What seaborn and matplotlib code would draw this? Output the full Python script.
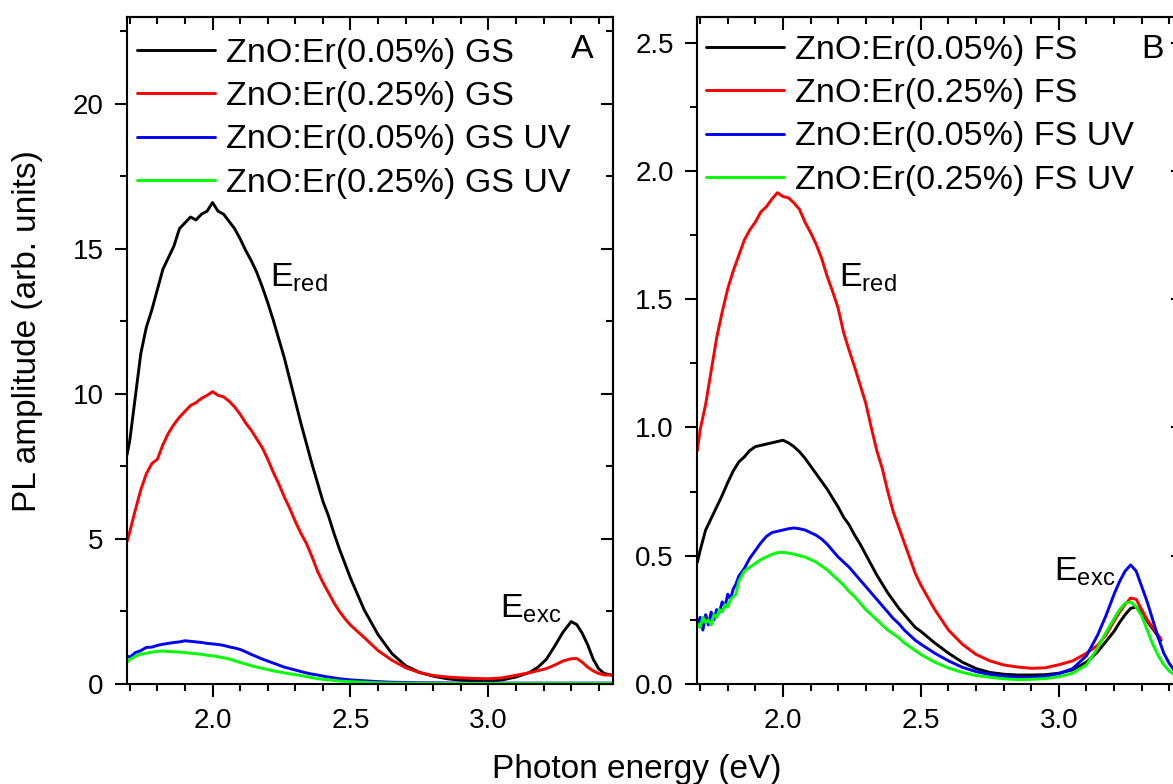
import pandas as pd
import matplotlib
matplotlib.use("Agg")
import matplotlib.pyplot as plt
import seaborn as sns
from matplotlib.ticker import MultipleLocator

# ---- data ----
energy_gs = [1.69, 1.70, 1.72, 1.74, 1.76, 1.78, 1.80, 1.82, 1.84, 1.86, 1.88, 1.90, 1.92, 1.94,
             1.96, 1.98, 2.00, 2.02, 2.04, 2.06, 2.08, 2.10, 2.12, 2.14, 2.16, 2.18, 2.20, 2.22,
             2.24, 2.26, 2.28, 2.30, 2.32, 2.34, 2.36, 2.38, 2.40, 2.42, 2.44, 2.46, 2.48, 2.50,
             2.55, 2.60, 2.65, 2.70, 2.75, 2.80, 2.85, 2.90, 2.95, 3.00, 3.05, 3.10, 3.15,
             3.18, 3.21, 3.24, 3.27, 3.30, 3.32, 3.34, 3.36, 3.38, 3.40, 3.42, 3.45]

gs_005 = [7.9, 8.4, 9.9, 11.4, 12.3, 12.9, 13.6, 14.3, 14.7, 15.1, 15.7, 15.9, 16.1, 16.0,
          16.2, 16.3, 16.6, 16.3, 16.2, 15.95, 15.7, 15.35, 14.95, 14.6, 14.2, 13.7, 13.15, 12.55,
          11.9, 11.25, 10.5, 9.75, 9.0, 8.3, 7.6, 6.95, 6.3, 5.8, 5.2, 4.65, 4.15, 3.65,
          2.55, 1.7, 1.05, 0.63, 0.40, 0.27, 0.18, 0.13, 0.11, 0.10, 0.14, 0.24, 0.40,
          0.58, 0.85, 1.30, 1.78, 2.15, 2.05, 1.75, 1.35, 0.85, 0.52, 0.36, 0.30]
gs_025 = [4.9, 5.25, 6.0, 6.7, 7.25, 7.6, 7.75, 8.25, 8.65, 8.95, 9.2, 9.4, 9.6, 9.7,
          9.85, 9.95, 10.08, 9.95, 9.9, 9.75, 9.55, 9.3, 9.0, 8.75, 8.45, 8.15, 7.75, 7.3,
          6.9, 6.45, 6.05, 5.6, 5.2, 4.85, 4.4, 3.9, 3.5, 3.15, 2.8, 2.5, 2.25, 2.03,
          1.6, 1.15, 0.82, 0.56, 0.39, 0.29, 0.24, 0.21, 0.19, 0.18, 0.21, 0.30, 0.39,
          0.46, 0.53, 0.65, 0.79, 0.87, 0.88, 0.75, 0.58, 0.45, 0.36, 0.31, 0.31]
gs_005_uv = [0.97, 0.92, 1.08, 1.15, 1.26, 1.27, 1.33, 1.37, 1.40, 1.43, 1.45, 1.49, 1.47, 1.45,
             1.43, 1.40, 1.38, 1.36, 1.33, 1.28, 1.24, 1.19, 1.11, 1.02, 0.94, 0.86, 0.79, 0.72,
             0.65, 0.58, 0.53, 0.48, 0.43, 0.38, 0.34, 0.31, 0.27, 0.24, 0.21, 0.18, 0.16, 0.14,
             0.11, 0.08, 0.06, 0.05, 0.04, 0.04, 0.035, 0.03, 0.03, 0.03, 0.03, 0.03, 0.03,
             0.03, 0.03, 0.03, 0.03, 0.03, 0.03, 0.03, 0.03, 0.03, 0.03, 0.03, 0.03]
gs_025_uv = [0.74, 0.85, 0.95, 1.03, 1.06, 1.10, 1.12, 1.14, 1.12, 1.11, 1.10, 1.08, 1.06, 1.04,
             1.02, 0.99, 0.97, 0.94, 0.90, 0.86, 0.80, 0.74, 0.69, 0.63, 0.58, 0.54, 0.50, 0.45,
             0.42, 0.38, 0.35, 0.32, 0.29, 0.25, 0.22, 0.18, 0.16, 0.14, 0.12, 0.10, 0.09, 0.08,
             0.06, 0.04, 0.03, 0.025, 0.02, 0.02, 0.02, 0.02, 0.02, 0.02, 0.02, 0.02, 0.02,
             0.02, 0.02, 0.02, 0.02, 0.02, 0.02, 0.02, 0.02, 0.02, 0.02, 0.02, 0.02]

energy_fs = [1.69, 1.70, 1.72, 1.74, 1.76, 1.78, 1.80, 1.82, 1.84, 1.86, 1.88, 1.90, 1.92, 1.94,
             1.96, 1.98, 2.00, 2.02, 2.04, 2.06, 2.08, 2.10, 2.12, 2.14, 2.16, 2.18, 2.20, 2.22,
             2.24, 2.26, 2.28, 2.30, 2.32, 2.34, 2.36, 2.38, 2.40, 2.42, 2.44, 2.46, 2.48, 2.50,
             2.55, 2.60, 2.65, 2.70, 2.75, 2.80, 2.85, 2.90, 2.95, 3.00, 3.05, 3.10,
             3.14, 3.17, 3.20, 3.22, 3.24, 3.26, 3.28, 3.30, 3.32, 3.34, 3.36, 3.37]

fs_005 = [0.474, 0.52, 0.60, 0.645, 0.69, 0.735, 0.785, 0.83, 0.865, 0.885, 0.91, 0.925, 0.93, 0.935,
          0.94, 0.945, 0.95, 0.94, 0.925, 0.905, 0.88, 0.85, 0.82, 0.79, 0.76, 0.725, 0.69, 0.65,
          0.62, 0.58, 0.545, 0.505, 0.465, 0.425, 0.39, 0.355, 0.325, 0.295, 0.27, 0.245, 0.22, 0.205,
          0.16, 0.12, 0.085, 0.06, 0.045, 0.038, 0.035, 0.035, 0.036, 0.042, 0.055, 0.085,
          0.125, 0.165, 0.205, 0.24, 0.27, 0.295, 0.30, 0.275, 0.245, 0.215, 0.185, 0.17]
fs_025 = [0.91, 0.99, 1.09, 1.22, 1.35, 1.45, 1.54, 1.61, 1.67, 1.73, 1.77, 1.80, 1.84, 1.86,
          1.89, 1.915, 1.90, 1.895, 1.875, 1.85, 1.80, 1.76, 1.715, 1.66, 1.59, 1.53, 1.465, 1.37,
          1.30, 1.235, 1.165, 1.095, 1.00, 0.91, 0.84, 0.75, 0.67, 0.61, 0.55, 0.49, 0.43, 0.385,
          0.29, 0.21, 0.155, 0.115, 0.09, 0.074, 0.066, 0.061, 0.063, 0.075, 0.09, 0.12,
          0.15, 0.19, 0.245, 0.28, 0.31, 0.335, 0.33, 0.29, 0.25, 0.22, 0.19, 0.175]

energy_uv = [1.69, 1.70, 1.71, 1.72, 1.73, 1.74, 1.75, 1.76, 1.77, 1.78, 1.79, 1.80, 1.81, 1.82,
             1.83, 1.84,
             1.86, 1.88, 1.90, 1.92, 1.94, 1.96, 1.98, 2.00, 2.02, 2.04, 2.06, 2.08, 2.10, 2.12,
             2.14, 2.16, 2.18, 2.20, 2.22, 2.24, 2.26, 2.28, 2.30, 2.32, 2.34, 2.36, 2.38, 2.40,
             2.42, 2.44, 2.46, 2.48, 2.50,
             2.55, 2.60, 2.65, 2.70, 2.75, 2.80, 2.85, 2.90, 2.95, 3.00, 3.05, 3.10,
             3.14, 3.17, 3.20, 3.22, 3.24, 3.26, 3.28, 3.30, 3.32, 3.34, 3.36, 3.38, 3.40, 3.42, 3.45]

fs_005_uv = [0.23, 0.26, 0.21, 0.27, 0.23, 0.28, 0.25, 0.29, 0.28, 0.32, 0.30, 0.35, 0.33, 0.37,
             0.39, 0.42,
             0.45, 0.49, 0.52, 0.55, 0.575, 0.59, 0.595, 0.60, 0.605, 0.608, 0.605, 0.60, 0.59, 0.58,
             0.565, 0.545, 0.52, 0.495, 0.475, 0.455, 0.43, 0.405, 0.38, 0.355, 0.33, 0.305, 0.28, 0.255,
             0.235, 0.21, 0.19, 0.17, 0.155,
             0.12, 0.09, 0.065, 0.048, 0.037, 0.03, 0.026, 0.026, 0.03, 0.04, 0.06, 0.11,
             0.19, 0.265, 0.35, 0.40, 0.44, 0.464, 0.44, 0.38, 0.32, 0.25, 0.18, 0.12, 0.08, 0.05, 0.03]
fs_025_uv = [0.235, 0.22, 0.26, 0.24, 0.25, 0.23, 0.27, 0.26, 0.29, 0.28, 0.31, 0.30, 0.33, 0.34,
             0.35, 0.40,
             0.44, 0.455, 0.47, 0.485, 0.495, 0.505, 0.512, 0.513, 0.51, 0.506, 0.50, 0.495, 0.485, 0.475,
             0.46, 0.445, 0.425, 0.405, 0.385, 0.36, 0.34, 0.315, 0.29, 0.27, 0.25, 0.23, 0.21, 0.195,
             0.18, 0.16, 0.145, 0.13, 0.115,
             0.085, 0.062, 0.045, 0.033, 0.026, 0.02, 0.017, 0.018, 0.021, 0.028, 0.042, 0.075,
             0.14, 0.20, 0.255, 0.29, 0.315, 0.32, 0.30, 0.265, 0.21, 0.155, 0.11, 0.075, 0.05, 0.035, 0.025]

labels_a = ["ZnO:Er(0.05%) GS", "ZnO:Er(0.25%) GS", "ZnO:Er(0.05%) GS UV", "ZnO:Er(0.25%) GS UV"]
labels_b = ["ZnO:Er(0.05%) FS", "ZnO:Er(0.25%) FS", "ZnO:Er(0.05%) FS UV", "ZnO:Er(0.25%) FS UV"]
line_colors = ["#000000", "#ff0000", "#0000ff", "#00ff00"]

# ---- style ----
sns.set_theme(style="ticks", rc={
    "axes.edgecolor": "black", "axes.linewidth": 1.5,
    "text.color": "black", "xtick.color": "black", "ytick.color": "black",
    "axes.labelcolor": "black",
})
plt.rcParams["font.family"] = ["Liberation Sans", "DejaVu Sans"]
plt.rcParams["mathtext.default"] = "regular"


def long_frame(parts, labels):
    frames = []
    for (x, y), lab in zip(parts, labels):
        frames.append(pd.DataFrame({"energy": x, "pl": y, "sample": lab}))
    return pd.concat(frames, ignore_index=True)


df_a = long_frame([(energy_gs, gs_005), (energy_gs, gs_025),
                   (energy_gs, gs_005_uv), (energy_gs, gs_025_uv)], labels_a)
df_b = long_frame([(energy_fs, fs_005), (energy_fs, fs_025),
                   (energy_uv, fs_005_uv), (energy_uv, fs_025_uv)], labels_b)

fig = plt.figure(figsize=(11.73, 7.84), dpi=100)
ax_a = fig.add_axes([0.1083, 0.1276, 0.4139, 0.8508])
ax_b = fig.add_axes([0.5945, 0.1276, 0.4141, 0.8508])


def draw_panel(ax, df, labels, ylim, ymaj, ymin, letter, legend_anchor):
    sns.lineplot(data=df, x="energy", y="pl", hue="sample", hue_order=labels,
                 palette=dict(zip(labels, line_colors)), estimator=None, sort=False,
                 linewidth=2.1, legend=False, ax=ax)
    ax.set_xlim(1.69, 3.45)
    ax.set_ylim(*ylim)
    ax.set_xlabel("")
    ax.set_ylabel("")
    for axis, maj, mnr in [(ax.xaxis, 0.5, 0.1), (ax.yaxis, ymaj, ymin)]:
        axis.set_major_locator(MultipleLocator(maj))
        axis.set_minor_locator(MultipleLocator(mnr))
    ax.tick_params(which="both", direction="out", width=1.5, labelsize=20, pad=8)
    ax.tick_params(which="major", length=9)
    ax.tick_params(which="minor", length=5)

    # mirrored ticks pointing inward on top and right
    top = ax.secondary_xaxis("top")
    top.xaxis.set_major_locator(MultipleLocator(0.5))
    top.xaxis.set_minor_locator(MultipleLocator(0.1))
    top.tick_params(which="both", direction="in", width=1.5, labeltop=False)
    top.tick_params(which="major", length=9)
    top.tick_params(which="minor", length=5)
    right = ax.secondary_yaxis("right")
    right.yaxis.set_major_locator(MultipleLocator(ymaj))
    right.yaxis.set_minor_locator(MultipleLocator(ymin))
    right.tick_params(which="both", direction="in", width=1.5, labelright=False)
    right.tick_params(which="major", length=9)
    right.tick_params(which="minor", length=5)
    for sp in list(top.spines.values()) + list(right.spines.values()):
        sp.set_linewidth(1.5)

    ax.legend(ax.get_lines()[:4], labels, loc="upper left", bbox_to_anchor=legend_anchor,
              frameon=False, fontsize=24.5, handlelength=2.3, handletextpad=0.3,
              labelspacing=0.36, borderpad=0, borderaxespad=0)
    ax.text(0.937, 0.939, letter, transform=ax.transAxes, ha="center", va="baseline",
            fontsize=24.5)


draw_panel(ax_a, df_a, labels_a, (0, 23), 5, 2.5, "A", (0.0206, 0.9685))
draw_panel(ax_b, df_b, labels_b, (0, 2.6), 0.5, 0.25, "B", (0.018, 0.973))

ax_a.text(2.208, 13.7, r"E$_{red}$", fontsize=24.5, ha="left", va="baseline")
ax_a.text(3.041, 2.28, r"E$_{exc}$", fontsize=24.5, ha="left", va="baseline")
ax_b.text(2.202, 1.55, r"E$_{red}$", fontsize=24.5, ha="left", va="baseline")
ax_b.text(2.982, 0.401, r"E$_{exc}$", fontsize=24.5, ha="left", va="baseline")

fig.text(28 / 1173, 1 - 331 / 784, "PL amplitude (arb. units)", rotation=90,
         ha="center", va="center", fontsize=24)
fig.text(637 / 1173, 6 / 784, "Photon energy (eV)", ha="center", va="baseline", fontsize=24)

fig.savefig("out.png", dpi=100)
